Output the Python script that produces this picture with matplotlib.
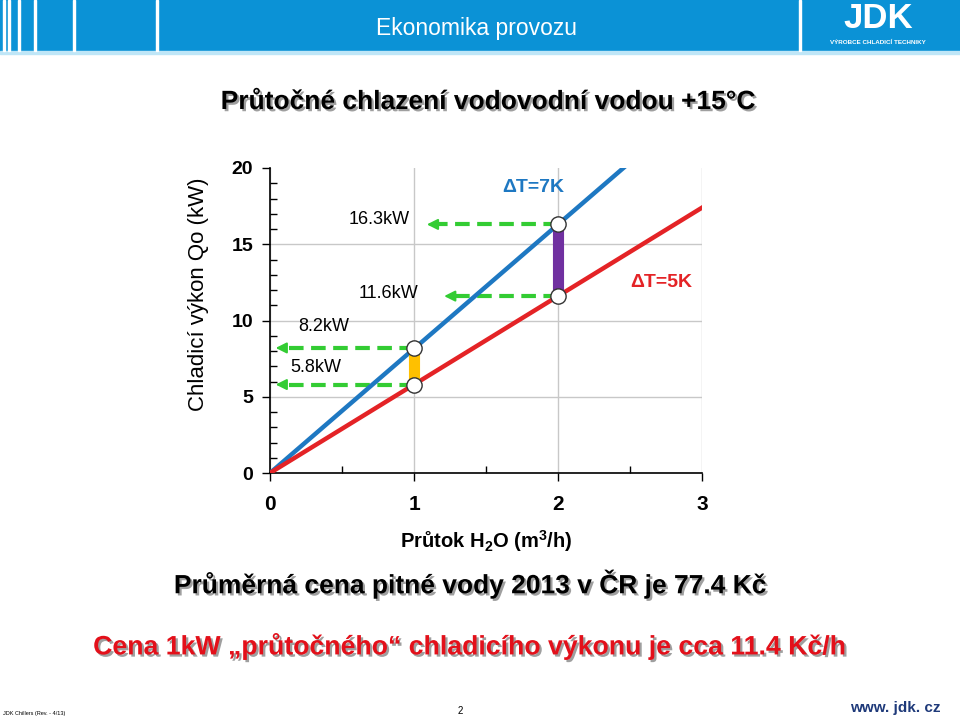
import matplotlib.pyplot as plt
import matplotlib.patheffects as pe
from matplotlib.patches import Rectangle

plt.rcParams['font.family'] = ['Liberation Sans', 'DejaVu Sans']
plt.rcParams['mathtext.fontset'] = 'custom'
plt.rcParams['mathtext.rm'] = 'Liberation Sans:bold'
plt.rcParams['mathtext.it'] = 'Liberation Sans:bold'
plt.rcParams['mathtext.bf'] = 'Liberation Sans:bold'

# Data
flow = [0, 3]                      # m3/h, range of the lines
slope_7k = 8.15                    # kW per m3/h for dT = 7K
slope_5k = 5.8                     # kW per m3/h for dT = 5K
points_x = [1, 2]
power_7k = [8.2, 16.3]
power_5k = [5.8, 11.6]
arrow_y = [8.2, 5.8, 16.3, 11.6]
arrow_from = [1, 1, 2, 2]
arrow_to = [0.02, 0.02, 1.07, 1.19]
value_labels = ['8.2kW', '5.8kW', '16.3kW', '11.6kW']
label_x = [0.37, 0.32, 0.76, 0.82]
label_y = [9.6, 6.95, 16.6, 11.8]
x_ticks = [0, 1, 2, 3]
y_ticks = [0, 5, 10, 15, 20]

blue = '#1E78C2'
red = '#E42326'
green = '#33CC33'
shadow = [pe.SimplePatchShadow(offset=(1.6, -1.6), shadow_rgbFace='#777777', alpha=0.7), pe.Normal()]

fig = plt.figure(figsize=(9.6, 7.19), dpi=100)

# Header bar
fig.patches.append(Rectangle((0, 1 - 51 / 719), 1, 51 / 719, transform=fig.transFigure,
                             color='#0B92D6', zorder=0))
fig.patches.append(Rectangle((0, 1 - 54 / 719), 1, 3 / 719, transform=fig.transFigure,
                             color='#BFE6F7', zorder=0))
for sx in [3, 8, 18, 34, 73, 156, 799]:
    fig.patches.append(Rectangle((sx / 960, 1 - 51 / 719), 1.6 / 960, 51 / 719,
                                 transform=fig.transFigure, color='white', zorder=1))
fig.text(476 / 960, 1 - 28 / 719, 'Ekonomika provozu', color='white', fontsize=16.5,
         ha='center', va='center')
fig.text(878 / 960, 1 - 19 / 719, 'JDK', color='white', fontsize=25, fontweight='bold',
         ha='center', va='center')
fig.text(878 / 960, 1 - 42 / 719, 'VÝROBCE CHLADICÍ TECHNIKY', color='white', fontsize=4.5,
         fontweight='bold', ha='center', va='center')

# Title
fig.text(488 / 960, 1 - 102 / 719, 'Průtočné chlazení vodovodní vodou +15°C', fontsize=19,
         fontweight='bold', ha='center', va='center', path_effects=shadow)

ax = fig.add_axes([270 / 960, 246 / 719, 432 / 960, 305 / 719])

ax.plot(flow, [f * slope_7k for f in flow], color=blue, linewidth=3.2, zorder=3)
ax.plot(flow, [f * slope_5k for f in flow], color=red, linewidth=3.2, zorder=3)

# Differences between the two lines
ax.vlines(points_x[0], power_5k[0], power_7k[0], color='#FFC000', linewidth=8, zorder=4)
ax.vlines(points_x[1], power_5k[1], power_7k[1], color='#7030A0', linewidth=8, zorder=4)

# Green dashed arrows to the values
for y, x0, x1 in zip(arrow_y, arrow_from, arrow_to):
    ax.plot([x0, x1 + 0.06], [y, y], color=green, linewidth=3, dashes=(3.5, 1.8), zorder=2)
    ax.annotate('', xy=(x1, y), xytext=(x1 + 0.1, y),
                arrowprops=dict(arrowstyle='-|>', color=green, lw=1.5, mutation_scale=16),
                zorder=2)

ax.plot(points_x + points_x, power_7k + power_5k, 'o', markersize=11,
        markerfacecolor='white', markeredgecolor='#333333', markeredgewidth=1, zorder=5)

for t, x, y in zip(value_labels, label_x, label_y):
    ax.text(x, y, t, fontsize=13, ha='center', va='center')

ax.text(1.83, 18.7, 'ΔT=7K', color=blue, fontsize=14, fontweight='bold', ha='center', va='center')
ax.text(2.72, 12.5, 'ΔT=5K', color=red, fontsize=14, fontweight='bold', ha='center', va='center')

ax.set_xlim(0, 3)
ax.set_ylim(0, 20)
ax.set_xticks(x_ticks)
ax.set_yticks(y_ticks)
ax.set_xticks([0.5, 1.5, 2.5], minor=True)
ax.set_yticks([v for v in range(21) if v % 5], minor=True)
ax.tick_params(which='major', direction='out', length=6, width=1)
ax.tick_params(which='minor', direction='in', length=5, width=1)
ax.tick_params(axis='y', which='major', labelsize=14, pad=6)
ax.tick_params(axis='x', which='major', labelsize=15, pad=10)
for lab in ax.get_xticklabels() + ax.get_yticklabels():
    lab.set_fontweight('bold')
ax.grid(True, which='major', color='#C8C8C8', linewidth=1)
ax.yaxis.get_gridlines()[-1].set_visible(False)
ax.set_axisbelow(True)
for s in ['top', 'right']:
    ax.spines[s].set_visible(False)
ax.spines['left'].set_linewidth(1.2)
ax.spines['bottom'].set_linewidth(1.2)

ax.set_ylabel('Chladicí výkon Qo (kW)', fontsize=16)
ax.yaxis.set_label_coords(-0.141, 0.587)
ax.set_xlabel(r'Průtok H$_2$O (m$^3$/h)', fontsize=14.5, fontweight='bold', labelpad=10)

fig.text(470 / 960, 1 - 584 / 719, 'Průměrná cena pitné vody 2013 v ČR je 77.4 Kč', fontsize=19,
         fontweight='bold', ha='center', va='center', path_effects=shadow)
fig.text(468 / 960, 1 - 646 / 719, 'Cena 1kW „průtočného“ chladicího výkonu je cca 11.4 Kč/h',
         fontsize=19.2, fontweight='bold', color='#E3101A', ha='center', va='center',
         path_effects=shadow)

fig.text(3 / 960, 1 - 714 / 719, 'JDK Chillers (Rev. - 4/13)', fontsize=4, va='center')
fig.text(460 / 960, 1 - 711 / 719, '2', fontsize=7, ha='center', va='center')
fig.text(895 / 960, 1 - 708 / 719, 'www. jdk. cz', fontsize=11, fontweight='bold',
         color='#1F3A7A', ha='center', va='center')

fig.savefig('out.png', dpi=100)
